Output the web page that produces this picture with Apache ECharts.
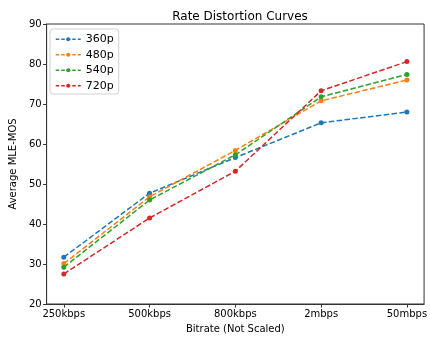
<!DOCTYPE html>
<html>
<head>
<meta charset="utf-8">
<script src="https://cdn.jsdelivr.net/npm/echarts@6/dist/echarts.min.js"></script>
<style>
  html, body { margin: 0; padding: 0; background: #fff; }
  #chart { width: 430px; height: 339px; }
</style>
</head>
<body>
<div id="chart"></div>
<script>
// Bitrate categories, plotted at evenly spaced positions (not to scale)
const bitrates = ['250kbps', '500kbps', '800kbps', '2mbps', '50mbps'];
const yTicks = [20, 30, 40, 50, 60, 70, 80, 90];

// Average MLE-MOS per resolution
const mos360 = [31.7, 47.7, 56.6, 65.3, 68.0];
const mos480 = [30.1, 46.8, 58.4, 70.8, 76.0];
const mos540 = [29.2, 46.0, 57.3, 71.8, 77.4];
const mos720 = [27.5, 41.5, 53.2, 73.3, 80.6];

const seriesDefs = [
  { name: '360p', data: mos360, color: '#1f77b4' },
  { name: '480p', data: mos480, color: '#ff7f0e' },
  { name: '540p', data: mos540, color: '#2ca02c' },
  { name: '720p', data: mos720, color: '#d62728' }
];

const font = 'DejaVu Sans';
const positions = bitrates.map((_, i) => i);
const dash = [5.5, 2.4];

const chart = echarts.init(document.getElementById('chart'), null, { renderer: 'canvas' });
chart.setOption({
  animation: false,
  backgroundColor: '#fff',
  textStyle: { fontFamily: font },
  title: {
    text: 'Rate Distortion Curves',
    left: 235, top: 6, textAlign: 'center',
    textStyle: { fontFamily: font, fontSize: 12, fontWeight: 'normal', color: '#000' }
  },
  grid: {
    left: 44, right: 4, top: 24, bottom: 31,
    show: true, borderColor: '#333', borderWidth: 1, backgroundColor: 'transparent'
  },
  legend: {
    orient: 'vertical', left: 50, top: 29,
    padding: [4, 5, 2, 5],
    itemWidth: 25, itemHeight: 5, itemGap: 3,
    backgroundColor: '#fff', borderColor: '#d0d0d0', borderWidth: 1, borderRadius: 3,
    lineStyle: { type: [3.5, 2], width: 1.5 },
    textStyle: { fontFamily: font, fontSize: 11, color: '#000', lineHeight: 12.5 },
    data: seriesDefs.map(s => s.name)
  },
  xAxis: {
    type: 'value', min: -0.2, max: 4.2,
    name: 'Bitrate (Not Scaled)', nameLocation: 'middle', nameGap: 20,
    nameTextStyle: { fontFamily: font, fontSize: 10, color: '#000' },
    axisLine: { show: true, onZero: false, lineStyle: { color: '#333', width: 1 } },
    axisTick: { show: true, customValues: positions, length: 3.5, lineStyle: { color: '#333' } },
    axisLabel: {
      customValues: positions, fontFamily: font, fontSize: 10, color: '#000', margin: 5,
      formatter: v => bitrates[Math.round(v)]
    },
    splitLine: { show: false }
  },
  yAxis: {
    type: 'value', min: yTicks[0], max: yTicks[yTicks.length - 1], interval: 10,
    name: 'Average MLE-MOS', nameLocation: 'middle', nameGap: 28,
    nameTextStyle: { fontFamily: font, fontSize: 10, color: '#000' },
    axisLine: { show: true, onZero: false, lineStyle: { color: '#333', width: 1 } },
    axisTick: { show: true, length: 3.5, lineStyle: { color: '#333' } },
    axisLabel: { fontFamily: font, fontSize: 10, color: '#000', margin: 5 },
    splitLine: { show: false }
  },
  series: seriesDefs.map(s => ({
    name: s.name,
    type: 'line',
    data: s.data.map((v, i) => [positions[i], v]),
    color: s.color,
    symbol: 'circle',
    symbolSize: 5,
    showSymbol: true,
    lineStyle: { color: s.color, width: 1.5, type: dash },
    itemStyle: { color: s.color }
  }))
});
</script>
</body>
</html>
